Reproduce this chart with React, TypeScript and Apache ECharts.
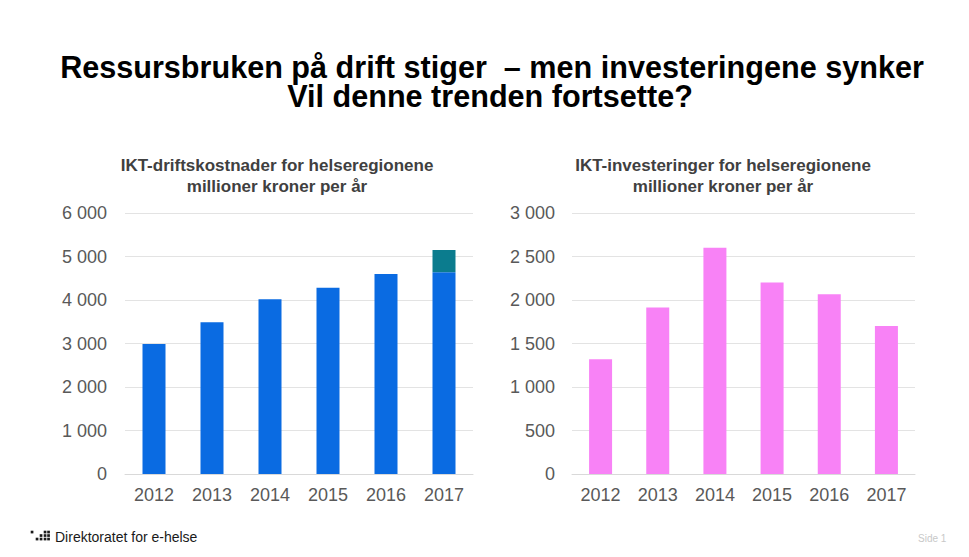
import React, { useEffect, useRef } from "react";
import * as echarts from "echarts";

const years = ["2012", "2013", "2014", "2015", "2016", "2017"];
const driftBase = [2990, 3490, 4020, 4280, 4600, 4640];
const driftExtra = [0, 0, 0, 0, 0, 510];
const investeringer = [1320, 1915, 2600, 2200, 2065, 1700];

const titleLine1 = "Ressursbruken på drift stiger  – men investeringene synker";
const titleLine2 = "Vil denne trenden fortsette?";
const leftTitle = "IKT-driftskostnader for helseregionene\nmillioner kroner per år";
const rightTitle = "IKT-investeringer for helseregionene\nmillioner kroner per år";
const footer = "Direktoratet for e-helse";
const pageLabel = "Side 1";

const logoDots = [
  [32, 532], [45, 532], [48.5, 532],
  [41, 535.5], [45, 535.5], [48.5, 535.5],
  [37, 539], [41, 539], [45, 539], [48.5, 539],
];

const fmt = (v: number) => {
  const s = String(Math.round(v));
  return s.replace(/\B(?=(\d{3})+(?!\d))/g, " ");
};

const FONT = "Liberation Sans, Arial, sans-serif";

export default function App() {
  const ref = useRef<HTMLDivElement>(null);
  useEffect(() => {
    if (!ref.current) return;
    const chart = echarts.init(ref.current, undefined, { renderer: "svg" });
    const axisLabel = {
      color: "#595959",
      fontSize: 18,
      fontFamily: FONT,
      formatter: (v: number) => fmt(v),
    };
    const xLabel = {
      color: "#595959",
      fontSize: 18,
      fontFamily: FONT,
      margin: 12,
    };
    const subTitleStyle = {
      fontSize: 17,
      fontWeight: "bold",
      color: "#404040",
      fontFamily: FONT,
      lineHeight: 21,
      align: "center",
    };
    const mainStyle = {
      fontSize: 30.6,
      fontWeight: "bold",
      color: "#000",
      fontFamily: FONT,
      lineHeight: 28,
    };
    chart.setOption({
      animation: false,
      backgroundColor: "#ffffff",
      title: [
        {
          text: titleLine1,
          left: 492,
          top: 53,
          padding: 0,
          textAlign: "center",
          textStyle: mainStyle,
        },
        {
          text: titleLine2,
          left: 490,
          top: 82,
          padding: 0,
          textAlign: "center",
          textStyle: mainStyle,
        },
        {
          text: leftTitle,
          left: 272,
          top: 150,
          textAlign: "center",
          textStyle: subTitleStyle,
        },
        {
          text: rightTitle,
          left: 718,
          top: 150,
          textAlign: "center",
          textStyle: subTitleStyle,
        },
      ],
      grid: [
        { left: 125, top: 213, width: 348, height: 261 },
        { left: 572, top: 213, width: 343, height: 261 },
      ],
      xAxis: [
        {
          type: "category",
          data: years,
          gridIndex: 0,
          axisLine: { lineStyle: { color: "#d9d9d9" } },
          axisTick: { show: false },
          axisLabel: xLabel,
        },
        {
          type: "category",
          data: years,
          gridIndex: 1,
          axisLine: { lineStyle: { color: "#d9d9d9" } },
          axisTick: { show: false },
          axisLabel: xLabel,
        },
      ],
      yAxis: [
        {
          type: "value",
          gridIndex: 0,
          min: 0,
          max: 6000,
          interval: 1000,
          axisLabel: { ...axisLabel, margin: 18 },
          splitLine: { lineStyle: { color: "#e3e3e3" } },
          axisLine: { show: false },
        },
        {
          type: "value",
          gridIndex: 1,
          min: 0,
          max: 3000,
          interval: 500,
          axisLabel: { ...axisLabel, margin: 17 },
          splitLine: { lineStyle: { color: "#e3e3e3" } },
          axisLine: { show: false },
        },
      ],
      series: [
        {
          type: "bar",
          xAxisIndex: 0,
          yAxisIndex: 0,
          stack: "drift",
          data: driftBase,
          barWidth: 23,
          itemStyle: { color: "#0a6be2" },
        },
        {
          type: "bar",
          xAxisIndex: 0,
          yAxisIndex: 0,
          stack: "drift",
          data: driftExtra,
          barWidth: 23,
          itemStyle: { color: "#0b7c8e" },
        },
        {
          type: "bar",
          xAxisIndex: 1,
          yAxisIndex: 1,
          data: investeringer,
          barWidth: 23,
          itemStyle: { color: "#f882f6" },
        },
      ],
      graphic: [
        ...logoDots.map(([x, y]) => ({
          type: "rect",
          shape: { x: x - 1.3, y: y - 1.3, width: 2.7, height: 2.7 },
          style: { fill: "#1a1a1a" },
        })),
        {
          type: "text",
          left: 55,
          top: 530,
          style: {
            text: footer,
            fontSize: 14,
            fill: "#1a1a1a",
            fontFamily: FONT,
          },
        },
        {
          type: "text",
          left: 918,
          top: 533,
          style: {
            text: pageLabel,
            fontSize: 10,
            fill: "#c8c8c8",
            fontFamily: FONT,
          },
        },
      ],
    });
    return () => chart.dispose();
  }, []);
  return <div ref={ref} style={{ width: 969, height: 557, position: "absolute", left: 0, top: 0 }} />;
}
